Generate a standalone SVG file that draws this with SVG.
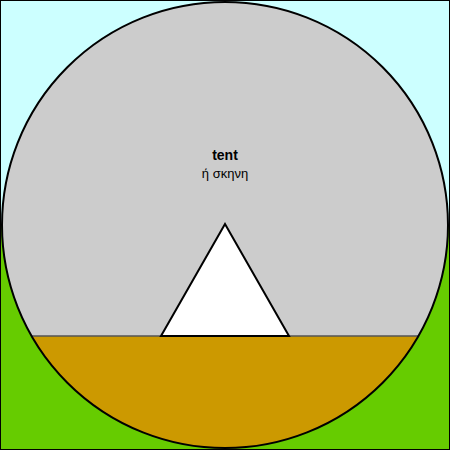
<svg xmlns="http://www.w3.org/2000/svg" width="450" height="450" viewBox="0 0 450 450">
<style>
.ol{stroke:#000;stroke-width:2;}
.t{font-family:"Liberation Sans",Arial,sans-serif;text-anchor:middle;fill:#000;}
</style>
<defs>
<clipPath id="c"><circle cx="225" cy="225" r="223"/></clipPath>
</defs>
<rect x="0" y="0" width="450" height="450" fill="#ccffff"/>
<rect x="0" y="225" width="450" height="225" fill="#66cc00"/>
<g id="tent">
<circle cx="225" cy="225" r="223" fill="#cccccc"/>
<rect x="0" y="336" width="450" height="114" fill="#cc9900" clip-path="url(#c)"/>
<line x1="31" y1="336" x2="419" y2="336" stroke="#555" stroke-width="1.5"/>
<circle cx="225" cy="225" r="223" fill="none" class="ol"/>
<polygon points="225,224 161,336 289,336" fill="#ffffff" class="ol" stroke-linejoin="miter"/>
<text class="t" x="225" y="160" font-size="14" font-weight="bold">tent</text>
<text class="t" x="225" y="178" font-size="13">ή σκηνη</text>
</g>
<rect x="0.5" y="0.5" width="449" height="449" fill="none" stroke="#000" stroke-width="1"/>
</svg>
